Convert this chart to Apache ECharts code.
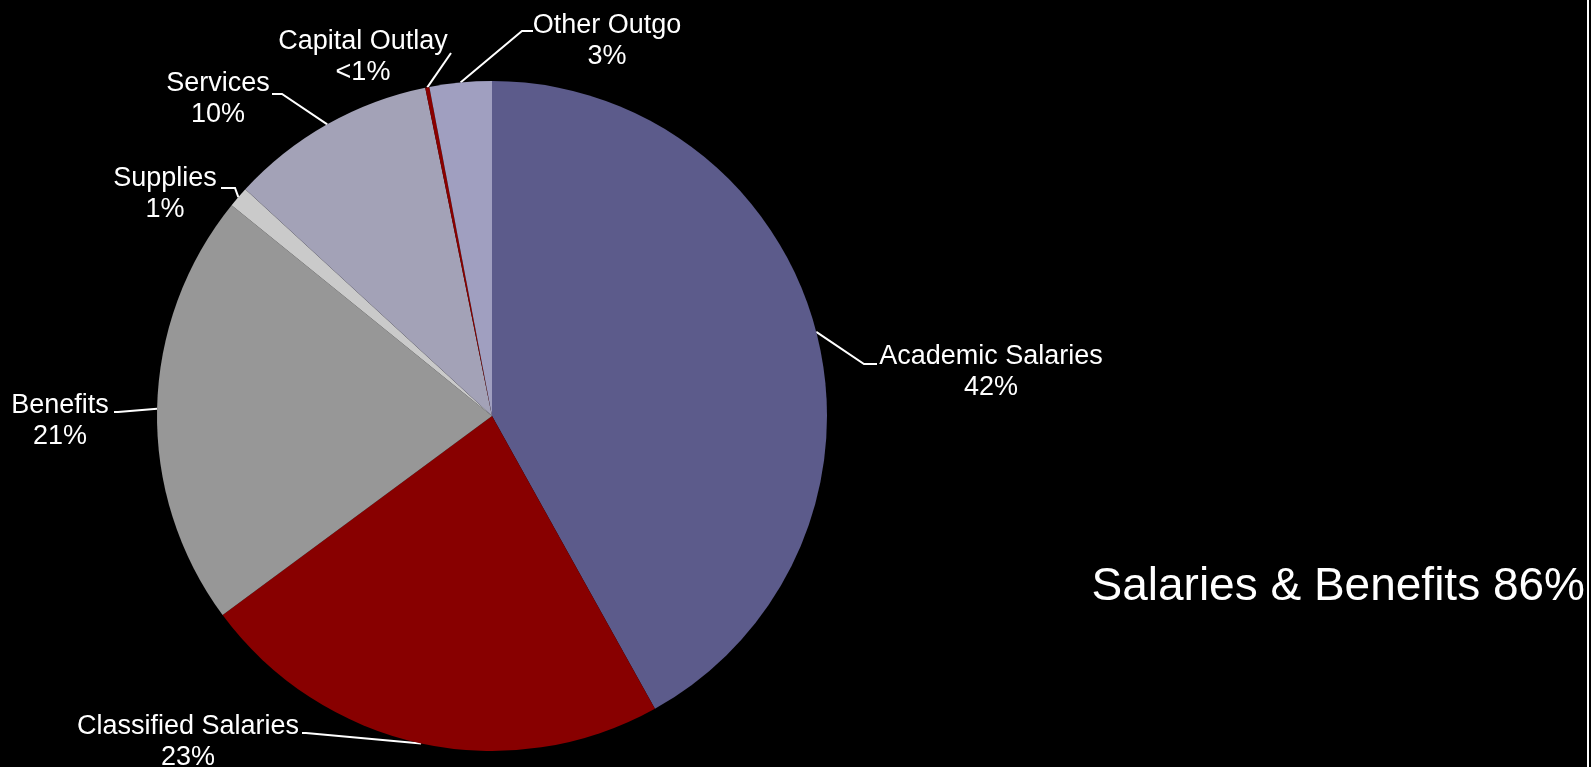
<!DOCTYPE html>
<html>
<head>
<meta charset="utf-8">
<script src="https://cdn.jsdelivr.net/npm/echarts@6/dist/echarts.min.js"></script>
<style>
  html, body { margin: 0; padding: 0; background: #000; }
  #chart { width: 1591px; height: 767px; }
</style>
</head>
<body>
<div id="chart"></div>
<script>
// Expense categories, clockwise from 12 o'clock
const categories = ['Academic Salaries', 'Classified Salaries', 'Benefits', 'Supplies', 'Services', 'Capital Outlay', 'Other Outgo'];
// Share of total expenses (percent)
const shares = [42, 23, 21, 1, 10, 0.2, 3];
// Percent text shown under each category name
const shareLabels = ['42%', '23%', '21%', '1%', '10%', '<1%', '3%'];
const sliceColors = ['#5c5b8b', '#880000', '#979797', '#cacaca', '#a3a2b7', '#8a0000', '#a09fc0'];
const summaryText = 'Salaries & Benefits 86%';

// Label placement: centre of the name line, and the leader line's elbow/end
const labelSpots = [
  { x: 991, y: 357, line: [[864, 364], [877, 364]] },
  { x: 188, y: 727, line: [[306, 733], [302, 733]] },
  { x: 60,  y: 406, line: [[118, 412], [114, 412]] },
  { x: 165, y: 179, line: [[235, 188], [221, 188]] },
  { x: 218, y: 84,  line: [[282, 94], [272, 94]] },
  { x: 363, y: 42,  line: [[451, 53], [451, 53]] },
  { x: 607, y: 26,  line: [[522, 31], [533, 31]] }
];
const LINE_H = 31;

const chart = echarts.init(document.getElementById('chart'), null, { renderer: 'canvas' });

chart.setOption({
  backgroundColor: '#000',
  animation: false,
  series: [{
    type: 'pie',
    center: [492, 416],
    radius: 335,
    startAngle: 90,
    clockwise: true,
    avoidLabelOverlap: false,
    silent: true,
    data: categories.map((name, i) => ({
      name: name,
      value: shares[i],
      itemStyle: { color: sliceColors[i] }
    })),
    itemStyle: { borderWidth: 0 },
    label: {
      show: true,
      position: 'outside',
      color: '#fff',
      fontFamily: '"Liberation Sans", Arial, sans-serif',
      fontSize: 27,
      lineHeight: LINE_H,
      formatter: (p) => p.name + '\n' + shareLabels[p.dataIndex]
    },
    labelLine: {
      show: true,
      length: 10,
      length2: 10,
      lineStyle: { color: '#fff', width: 2 }
    },
    labelLayout: function (params) {
      const s = labelSpots[params.dataIndex];
      const start = params.labelLinePoints && params.labelLinePoints[0];
      const out = {
        x: s.x,
        y: s.y - LINE_H / 2,
        align: 'center',
        verticalAlign: 'top'
      };
      if (start) out.labelLinePoints = [start, s.line[0], s.line[1]];
      return out;
    }
  }],
  graphic: [
    {
      type: 'text',
      right: 6,
      top: 564,
      style: {
        text: summaryText,
        fill: '#fff',
        font: '46px "Liberation Sans", Arial, sans-serif'
      }
    },
    {
      type: 'rect',
      left: 1587,
      top: 0,
      shape: { width: 2, height: 767 },
      style: { fill: '#fff' }
    }
  ]
});
</script>
</body>
</html>
